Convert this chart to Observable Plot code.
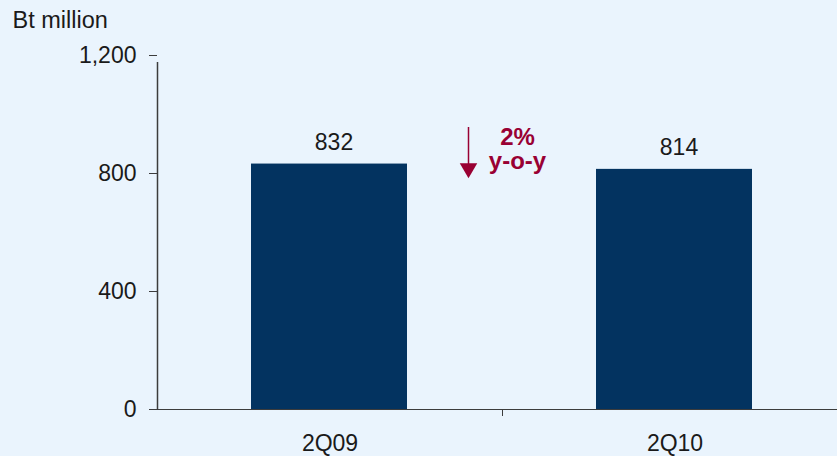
<!DOCTYPE html>
<html>
<head>
<meta charset="utf-8">
<script src="https://cdn.jsdelivr.net/npm/d3@7"></script>
<script src="https://cdn.jsdelivr.net/npm/@observablehq/plot@0.6"></script>
<style>
  html, body { margin: 0; padding: 0; background: #EAF4FD; }
  #chart svg { display: block; }
</style>
</head>
<body>
<div id="chart"></div>
<script>
const categories = ["2Q09", "2Q10"];
const values = [832, 814];
const yTicks = [0, 400, 800, 1200];
const unitLabel = "Bt million";
const changeText = ["2%", "y-o-y"];
const arrowFrom = [956];   // top of the down arrow (value units)
const arrowTo = [818];     // arrow head centre (value units)

const data = categories.map((c, i) => ({category: c, value: values[i]}));

const ink = "#1a1a1a";
const axisInk = "#3c3c3c";
const red = "#990033";
const font = "'Liberation Sans', Arial, sans-serif";

const chart = Plot.plot({
  width: 837,
  height: 456,
  marginTop: 55,
  marginBottom: 47,
  marginLeft: 157,
  marginRight: 0,
  style: {background: "#EAF4FD", fontFamily: font, fontSize: "23px", color: ink, overflow: "hidden"},
  x: {type: "band", domain: categories, range: [157, 847], padding: 0},
  y: {domain: [0, 1200], range: [409, 55]},
  marks: [
    Plot.barY(data, {x: "category", y: "value", fill: "#033360", insetLeft: 94, insetRight: 95}),
    // y axis line and category boundary ticks
    Plot.ruleX([categories[0]], {x: d => d, dx: -172.5, y1: 0, y2: 1200, insetBottom: -7, stroke: axisInk, strokeWidth: 1.5}),
    Plot.ruleX([categories[1]], {x: d => d, dx: -172.5, y1: 0, y2: 0, insetBottom: -7, stroke: axisInk}),
    Plot.ruleY([0], {stroke: axisInk}),
    Plot.axisY({ticks: yTicks, tickFormat: d3.format(","), tickSize: 8, tickPadding: 13, label: null, stroke: axisInk, fontSize: 23, fill: ink}),
    Plot.axisX({tickSize: 0, tickPadding: 25, label: null, fontSize: 23, fill: ink}),
    Plot.text(data, {x: "category", y: "value", text: d => String(d.value), dx: 4, dy: -14, lineAnchor: "bottom", fontSize: 23, fill: ink}),
    Plot.text([unitLabel], {frameAnchor: "top-left", dx: -145, dy: -28, lineAnchor: "bottom", textAnchor: "start", fontSize: 23.5, fill: ink}),
    // annotation: down arrow and change text
    Plot.ruleX([categories[1]], {x: d => d, dx: -206.5, y1: arrowFrom[0], y2: arrowTo[0], stroke: red, strokeWidth: 1.5}),
    Plot.dot([categories[1]], {x: d => d, dx: -206.5, y: arrowTo[0], symbol: "triangle", rotate: 180, r: 6.5, fill: red, stroke: "none"}),
    Plot.text([changeText.join("\n")], {x: () => categories[1], dx: -157.5, y: () => arrowFrom[0], lineAnchor: "top", lineHeight: 1.0, fontSize: 24, fontWeight: "bold", fill: red})
  ]
});
document.getElementById("chart").appendChild(chart);
</script>
</body>
</html>
